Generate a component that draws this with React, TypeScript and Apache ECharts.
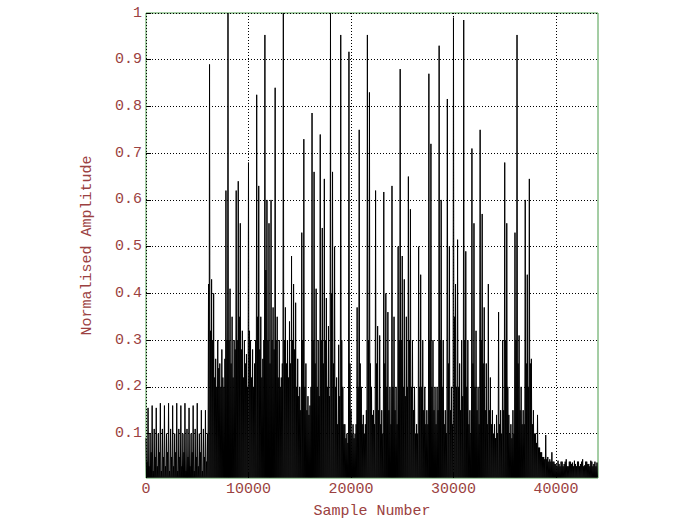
import React, { useEffect, useRef } from "react";
import * as echarts from "echarts";

// Waveform read column by column: max amplitude in each 100-sample window
// (the signal dips back to about the floor level inside every window)
const sampleStep = 100;
const totalSamples = 44100;
const floorLevel = 0.006;
const windowPeaks = [
  0.09, 0.04, 0.155, 0.03, 0.1, 0.06, 0.16, 0.02, 0.11, 0.05,
  0.155, 0.03, 0.1, 0.06, 0.165, 0.02, 0.11, 0.05, 0.16, 0.03,
  0.1, 0.06, 0.165, 0.02, 0.11, 0.05, 0.16, 0.03, 0.1, 0.06,
  0.165, 0.02, 0.11, 0.05, 0.16, 0.03, 0.1, 0.06, 0.165, 0.02,
  0.11, 0.05, 0.155, 0.03, 0.1, 0.06, 0.16, 0.02, 0.11, 0.05,
  0.165, 0.03, 0.1, 0.06, 0.15, 0.02, 0.11, 0.05, 0.15, 0.04,
  0.1, 0.42, 0.89, 0.32, 0.43, 0.3, 0.4, 0.22, 0.26, 0.2,
  0.3, 0.24, 0.25, 0.2, 0.28, 0.22, 0.2, 0.26, 0.62, 0.3,
  1.0, 0.3, 0.41, 0.25, 0.35, 0.22, 0.3, 0.28, 0.62, 0.3,
  0.64, 0.35, 0.55, 0.28, 0.32, 0.22, 0.3, 0.25, 0.27, 0.2,
  0.68, 0.32, 0.3, 0.22, 0.28, 0.2, 0.25, 0.3, 0.825, 0.35,
  0.63, 0.28, 0.35, 0.22, 0.26, 0.3, 0.953, 0.45, 0.6, 0.3,
  0.55, 0.25, 0.6, 0.3, 0.37, 0.28, 0.84, 0.3, 0.35, 0.22,
  0.3, 0.2, 0.22, 0.25, 1.0, 0.3, 0.37, 0.25, 0.3, 0.22,
  0.34, 0.25, 0.48, 0.3, 0.42, 0.28, 0.38, 0.2, 0.26, 0.18,
  0.2, 0.15, 0.53, 0.3, 0.73, 0.2, 0.25, 0.15, 0.18, 0.14,
  0.16, 0.2, 0.786, 0.3, 0.66, 0.25, 0.41, 0.2, 0.3, 0.18,
  0.74, 0.3, 0.54, 0.25, 0.645, 0.3, 0.39, 0.2, 0.33, 0.18,
  1.0, 0.4, 0.66, 0.25, 0.5, 0.2, 0.22, 0.12, 0.29, 0.18,
  0.953, 0.3, 0.2, 0.12, 0.12, 0.09, 0.1, 0.08, 0.917, 0.25,
  0.15, 0.1, 0.12, 0.09, 0.1, 0.12, 0.37, 0.2, 0.75, 0.25,
  0.2, 0.12, 0.14, 0.1, 0.12, 0.15, 0.953, 0.3, 0.83, 0.25,
  0.2, 0.14, 0.15, 0.12, 0.62, 0.25, 0.33, 0.15, 0.31, 0.12,
  0.15, 0.1, 0.617, 0.25, 0.4, 0.2, 0.36, 0.15, 0.2, 0.12,
  0.63, 0.2, 0.35, 0.15, 0.2, 0.12, 0.5, 0.3, 0.88, 0.3,
  0.48, 0.2, 0.43, 0.18, 0.35, 0.2, 0.65, 0.3, 0.58, 0.2,
  0.3, 0.15, 0.2, 0.1, 0.12, 0.1, 0.5, 0.2, 0.44, 0.2,
  0.3, 0.15, 0.2, 0.12, 0.15, 0.12, 0.87, 0.3, 0.72, 0.2,
  0.3, 0.15, 0.2, 0.12, 0.2, 0.15, 0.93, 0.3, 0.6, 0.2,
  0.3, 0.12, 0.15, 0.1, 0.816, 0.25, 0.5, 0.15, 0.2, 0.12,
  0.99, 0.35, 0.42, 0.2, 0.515, 0.2, 0.25, 0.15, 0.3, 0.18,
  0.985, 0.3, 0.49, 0.2, 0.3, 0.12, 0.15, 0.1, 0.71, 0.25,
  0.55, 0.2, 0.32, 0.15, 0.2, 0.12, 0.75, 0.3, 0.57, 0.25,
  0.37, 0.15, 0.25, 0.12, 0.42, 0.15, 0.22, 0.12, 0.15, 0.1,
  0.12, 0.09, 0.14, 0.1, 0.36, 0.12, 0.15, 0.1, 0.3, 0.15,
  0.68, 0.3, 0.55, 0.2, 0.14, 0.1, 0.12, 0.09, 0.15, 0.1,
  0.53, 0.3, 0.953, 0.25, 0.31, 0.15, 0.2, 0.12, 0.15, 0.12,
  0.6, 0.25, 0.44, 0.2, 0.645, 0.25, 0.26, 0.12, 0.15, 0.1,
  0.1, 0.08, 0.14, 0.07, 0.07, 0.06, 0.06, 0.05, 0.05, 0.045,
  0.097, 0.045, 0.05, 0.04, 0.045, 0.04, 0.06, 0.04, 0.04, 0.035,
  0.035, 0.03, 0.042, 0.035, 0.03, 0.04, 0.04, 0.03, 0.035, 0.04,
  0.045, 0.03, 0.03, 0.04, 0.04, 0.035, 0.038, 0.03, 0.042, 0.035,
  0.03, 0.04, 0.04, 0.03, 0.035, 0.04, 0.045, 0.03, 0.032, 0.04,
  0.04, 0.035, 0.035, 0.03, 0.042, 0.04, 0.03, 0.035, 0.04, 0.03,
  0.038,
];

const xTicks = [0, 10000, 20000, 30000, 40000];
const yTicks = [0.1, 0.2, 0.3, 0.4, 0.5, 0.6, 0.7, 0.8, 0.9, 1];
const yMin = 0.005;
const yMax = 1;

const textColor = "#9b4141";
const fontFamily = "'Liberation Mono', 'DejaVu Sans Mono', monospace";

function buildSeriesData(): number[][] {
  const pts: number[][] = [];
  windowPeaks.forEach((v, i) => {
    const s = i * sampleStep;
    pts.push([s, v]);
    pts.push([Math.min(s + sampleStep / 2, totalSamples), floorLevel]);
  });
  return pts;
}

export default function App() {
  const ref = useRef<HTMLDivElement>(null);
  useEffect(() => {
    if (!ref.current) return;
    const chart = echarts.init(ref.current, undefined, { renderer: "svg" });
    chart.setOption({
      animation: false,
      backgroundColor: "#ffffff",
      grid: {
        left: 146,
        top: 13,
        width: 452,
        height: 465,
        outerBoundsMode: "none",
        containLabel: false,
        show: true,
        borderColor: "#4a9c4a",
        borderWidth: 1,
        backgroundColor: "transparent",
      },
      xAxis: {
        type: "value",
        min: 0,
        max: totalSamples,
        name: "Sample Number",
        nameLocation: "middle",
        nameGap: 26,
        nameTextStyle: { color: textColor, fontFamily, fontSize: 15 },
        axisLine: { show: false },
        axisTick: {
          show: true,
          inside: true,
          length: 5,
          customValues: xTicks,
          lineStyle: { color: "#000" },
        },
        axisLabel: {
          customValues: xTicks,
          color: textColor,
          fontFamily,
          fontSize: 15,
          margin: 4,
          formatter: (v: number) => String(v),
        },
        splitLine: {
          show: true,
          lineStyle: { color: "#000", type: [1, 2], width: 1 },
        },
      },
      yAxis: {
        type: "value",
        min: yMin,
        max: yMax,
        name: "Normalised Amplitude",
        nameLocation: "middle",
        nameGap: 51,
        nameRotate: 90,
        nameTextStyle: { color: textColor, fontFamily, fontSize: 15 },
        axisLine: { show: false },
        axisTick: {
          show: true,
          inside: true,
          length: 5,
          customValues: yTicks,
          lineStyle: { color: "#000" },
        },
        axisLabel: {
          customValues: yTicks,
          color: textColor,
          fontFamily,
          fontSize: 15,
          margin: 4,
          formatter: (v: number) => String(v),
        },
        splitLine: {
          show: true,
          lineStyle: { color: "#000", type: [1, 2], width: 1 },
        },
      },
      series: [
        {
          type: "line",
          data: buildSeriesData(),
          showSymbol: false,
          symbol: "none",
          lineStyle: { color: "#000000", width: 1 },
          z: 3,
        },
      ],
    });
    return () => chart.dispose();
  }, []);
  return (
    <div
      ref={ref}
      style={{ position: "fixed", left: 0, top: 0, width: 692, height: 519 }}
    />
  );
}
